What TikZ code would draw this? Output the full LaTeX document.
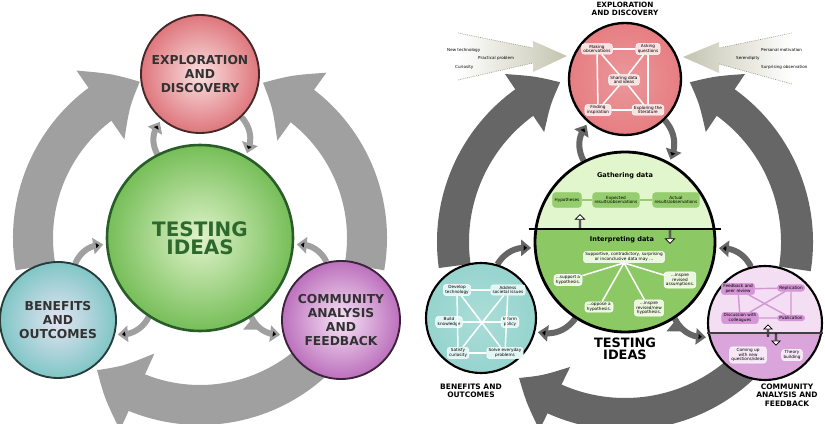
\documentclass[tikz,border=0pt]{standalone}
\usepackage{fontspec}
\setmainfont{DejaVu Sans}
\usetikzlibrary{arrows.meta,bending,shapes.arrows,backgrounds}

\definecolor{arcLt}{RGB}{160,160,160}
\definecolor{arcDk}{RGB}{102,102,102}
\definecolor{expOut}{RGB}{222,118,124}
\definecolor{expIn}{RGB}{250,224,224}
\definecolor{expLine}{RGB}{70,40,40}
\definecolor{tstOut}{RGB}{118,190,88}
\definecolor{tstIn}{RGB}{224,243,202}
\definecolor{tstLine}{RGB}{40,92,40}
\definecolor{tstText}{RGB}{45,105,45}
\definecolor{benOut}{RGB}{128,198,198}
\definecolor{benIn}{RGB}{228,228,242}
\definecolor{benLine}{RGB}{40,60,60}
\definecolor{comOut}{RGB}{188,112,188}
\definecolor{comIn}{RGB}{246,228,246}
\definecolor{comLine}{RGB}{60,35,60}
\definecolor{lblText}{RGB}{50,50,50}
\definecolor{expFill}{RGB}{230,126,130}
\definecolor{expBox}{RGB}{250,226,226}
\definecolor{gathFill}{RGB}{226,246,206}
\definecolor{gathBox}{RGB}{150,205,110}
\definecolor{intFill}{RGB}{140,200,100}
\definecolor{intBox}{RGB}{236,248,222}
\definecolor{benFill}{RGB}{150,212,206}
\definecolor{benBox}{RGB}{226,246,244}
\definecolor{comUp}{RGB}{243,222,243}
\definecolor{comLow}{RGB}{218,165,218}
\definecolor{comBox}{RGB}{212,150,212}
\definecolor{comBoxLt}{RGB}{247,232,247}
\definecolor{coneFill}{RGB}{196,196,176}
\definecolor{coneDot}{RGB}{150,150,130}

\tikzset{
  bubble/.style={circle, draw=#1, line width=1.6pt, inner sep=0pt, align=center},
  biglbl/.style={font=\bfseries\fontsize{10.5}{12.2}\selectfont, text=lblText},
  smlbl/.style={font=\bfseries\fontsize{6.4}{7.2}\selectfont, align=center, inner sep=0pt},
  bigarcL/.style={draw=arcLt, line width=12mm, -{Triangle[length=14mm,width=24mm,bend]}},
  bigarcR/.style={draw=arcDk, line width=9.6mm, -{Triangle[length=12.6mm,width=20mm,bend]}},
  minarcL/.style={draw=arcLt, line width=1.8mm, -{Triangle[length=3mm,width=4.8mm]}, shorten >=0.8mm},
  minarcR/.style={draw=arcDk, line width=1.8mm, -{Triangle[length=3mm,width=4.8mm]}, shorten >=0.8mm},
  tbox/.style={rounded corners=2.4pt, draw=white, line width=0.5pt, fill=#1,
    font=\fontsize{3.6}{4.1}\selectfont, align=center, inner xsep=1.6pt, inner ysep=1pt},
  wline/.style={draw=white, line width=1.3pt},
  hollowarr/.style={single arrow, draw=black, fill=white, line width=0.6pt, inner sep=0pt,
    minimum height=4.2mm, minimum width=2.8mm, single arrow head extend=0.5mm},
  conelbl/.style={font=\fontsize{3.5}{4}\selectfont, anchor=west, inner sep=0pt}
}

\begin{document}
\begin{tikzpicture}[x=0.3mm, y=-0.3mm]
\useasboundingbox (0,0) rectangle (825,424);

% ---------- simple cycle (left) ----------
\node[bubble=tstLine, line width=2.2pt, minimum size=55.8mm, inner color=tstIn, outer color=tstOut,
  font=\bfseries\fontsize{17}{15.5}\selectfont, text=tstText] (tst) at (200,238) {TESTING\\IDEAS};
\node[bubble=expLine, minimum size=35.4mm, inner color=expIn, outer color=expOut, biglbl] (exp) at (200,74) {EXPLORATION\\AND\\DISCOVERY};
\node[bubble=benLine, minimum size=34.8mm, inner color=benIn, outer color=benOut, biglbl] (ben) at (58,320) {BENEFITS\\AND\\OUTCOMES};
\node[bubble=comLine, minimum size=35.4mm, inner color=comIn, outer color=comOut, biglbl] (com) at (341,320) {COMMUNITY\\ANALYSIS\\AND\\FEEDBACK};

\begin{scope}[on background layer]
  \draw[bigarcL] ([shift={(-190:167)}]tst.center) arc[start angle=-190, end angle=-111, radius=167];
  \draw[bigarcL] ([shift={(10:167)}]tst.center) arc[start angle=10, end angle=-68, radius=167];
  \draw[bigarcL] ([shift={(48:167)}]tst.center) arc[start angle=48, end angle=128, radius=167];
  \path[minarcL]
    (tst.117) edge[bend left=35] (exp.230)
    (exp.-46) edge[bend left=35] (tst.61)
    (ben.73)  edge[bend left=35] (tst.184)
    (tst.237) edge[bend left=35] (ben.-14)
    (com.104) edge[bend right=35] (tst.-4)
    (tst.-57) edge[bend right=35] (com.194);
\end{scope}

% ---------- detailed cycle (right) ----------
% inflow cones
\shade[left color=white, right color=coneFill] (458,33) -- (533,48) -- (533,41) -- (567,56) -- (533,72) -- (533,63) -- (458,80) -- cycle;
\draw[coneDot, densely dotted, line width=0.6pt] (458,33) -- (533,48) (458,80) -- (533,63);
\shade[left color=coneFill, right color=white] (792,33) -- (719,48) -- (719,42) -- (683,57) -- (719,73) -- (719,64) -- (792,84) -- cycle;
\draw[coneDot, densely dotted, line width=0.6pt] (792,33) -- (719,48) (792,84) -- (719,64);
\node[conelbl] (newtech) at (447,50) {New technology};
\node[conelbl] (practp) at (478,58) {Practical problem};
\node[conelbl] (curios) at (455,67) {Curiosity};
\node[conelbl] (persmot) at (761,50) {Personal motivation};
\node[conelbl] (serend) at (736,58) {Serendipity};
\node[conelbl] (surpobs) at (761,67) {Surprising observation};

% circles
\node[bubble=black, line width=2.4pt, minimum size=54mm, fill=gathFill, path picture={
    \fill[intFill] ([yshift=3.9mm]path picture bounding box.center -| path picture bounding box.west)
      rectangle (path picture bounding box.south east);}] (tstB) at (625,242) {};
\node[bubble=black, line width=2pt, minimum size=33.6mm, inner color=expFill!80!white, outer color=expFill] (expB) at (625,79) {};
\node[bubble=black, line width=1.8pt, minimum size=33mm, inner color=benFill!80!white, outer color=benFill] (benB) at (481,318) {};
\node[bubble=black, line width=1.8pt, minimum size=34.2mm, fill=comUp, path picture={
    \fill[comLow] ([yshift=-3mm]path picture bounding box.center -| path picture bounding box.west)
      rectangle (path picture bounding box.south east);}] (comB) at (765,323) {};
\draw[line width=1.2pt] ([shift={(-5,-13)}]tstB.west) -- ([shift={(5,-13)}]tstB.east);
\draw[line width=1pt, black!75] ([shift={(0,10)}]comB.west) -- ([shift={(0,10)}]comB.east);

\begin{scope}[on background layer]
  \draw[bigarcR] ([shift={(-188:172)}]tstB.center) arc[start angle=-188, end angle=-112, radius=172];
  \draw[bigarcR] ([shift={(9:172)}]tstB.center) arc[start angle=9, end angle=-68, radius=172];
  \draw[bigarcR] ([shift={(46:172)}]tstB.center) arc[start angle=46, end angle=128, radius=172];
  \path[minarcR]
    (tstB.117) edge[bend left=35] (expB.230)
    (expB.-46) edge[bend left=35] (tstB.61)
    (benB.73)  edge[bend left=35] (tstB.184)
    (tstB.237) edge[bend left=35] (benB.-14)
    (comB.104) edge[bend right=35] (tstB.-4)
    (tstB.-57) edge[bend right=35] (comB.194);
\end{scope}

% exploration and discovery
\node[tbox=expBox] (mkob) at (597,49) {Making\\observations};
\node[tbox=expBox] (askq) at (648,49) {Asking\\questions};
\node[tbox=expBox] (shar) at (624,80) {Sharing data\\and ideas};
\node[tbox=expBox] (find) at (598,110) {Finding\\inspiration};
\node[tbox=expBox] (litr) at (648,110) {Exploring the\\literature};
\draw[wline] (mkob) -- (askq) (find) -- (litr) (mkob) -- (find) (askq) -- (litr)
  (mkob) -- (shar) (askq) -- (shar) (find) -- (shar) (litr) -- (shar);

% testing ideas
\node[font=\bfseries\fontsize{5.6}{6}\selectfont] (gath) at (625,176) {Gathering data};
\node[tbox=gathBox, draw=gathBox, minimum height=4.4mm] (hypo) at (567,200) {Hypotheses};
\node[tbox=gathBox, draw=gathBox, minimum height=4.4mm] (expr) at (616,200) {Expected\\results/observations};
\node[tbox=gathBox, draw=gathBox, minimum height=4.4mm] (actr) at (676,200) {Actual\\results/observations};
\draw[gathBox, line width=1pt] (hypo) -- (expr) -- (actr);
\node[hollowarr, rotate=90] (upA) at (580,222) {};
\node[hollowarr, rotate=-90] (dnA) at (670,236) {};
\node[font=\bfseries\fontsize{5.6}{6}\selectfont] (intp) at (622,240) {Interpreting data};
\node[tbox=intBox] (supp) at (624,257) {Supportive, contradictory, surprising\\or inconclusive data may ...};
\node[tbox=intBox] (spt) at (568,280) {...support a\\hypothesis.};
\node[tbox=intBox] (rvas) at (680,280) {...inspire\\revised\\assumptions.};
\node[tbox=intBox] (opp) at (599,307) {...oppose a\\hypothesis.};
\node[tbox=intBox] (rvhy) at (649,308) {...inspire\\revised/new\\hypothesis.};
\draw[wline] (supp.south) -- (spt) (supp.south) -- (opp) (supp.south) -- (rvhy) (supp.south) -- (rvas);

% benefits and outcomes
\node[tbox=benBox] (devt) at (457,290) {Develop\\technology};
\node[tbox=benBox] (addr) at (508,290) {Address\\societal issues};
\node[tbox=benBox] (bldk) at (449,322) {Build\\knowledge};
\node[tbox=benBox] (infp) at (510,322) {Inform\\policy};
\node[tbox=benBox] (satc) at (458,353) {Satisfy\\curiosity};
\node[tbox=benBox] (solv) at (505,353) {Solve everyday\\problems};
\draw[wline] (devt) -- (addr) (satc) -- (solv) (devt) -- (satc) (addr) -- (solv)
  (devt) -- (solv) (addr) -- (satc) (bldk) -- (infp);

% community analysis and feedback
\node[tbox=comBox, draw=comBox] (fdbk) at (738,289) {Feedback and\\peer review};
\node[tbox=comBox, draw=comBox] (repl) at (791,288) {Replication};
\node[tbox=comBox, draw=comBox] (disc) at (740,318) {Discussion with\\colleagues};
\node[tbox=comBox, draw=comBox] (publ) at (791,318) {Publication};
\draw[comBox, line width=1.2pt] (fdbk) -- (repl) (disc) -- (publ) (fdbk) -- (disc) (repl) -- (publ)
  (fdbk) -- (publ) (repl) -- (disc);
\node[hollowarr, rotate=90, minimum height=3.4mm, minimum width=2.4mm] (cupA) at (768,331) {};
\node[hollowarr, rotate=-90, minimum height=3.4mm, minimum width=2.4mm] (cdnA) at (776,339) {};
\node[tbox=comBoxLt] (cmup) at (748,355) {Coming up\\with new\\questions/ideas};
\node[tbox=comBoxLt] (thry) at (792,355) {Theory\\building};

% titles
\node[smlbl, font=\bfseries\fontsize{6.2}{6.8}\selectfont] (expBlbl) at (625,9) {EXPLORATION\\AND DISCOVERY};
\node[font=\bfseries\fontsize{11}{10.5}\selectfont, align=center] (tstBlbl) at (625,349) {TESTING\\IDEAS};
\node[smlbl] (benBlbl) at (471,391) {BENEFITS AND\\OUTCOMES};
\node[smlbl] (comBlbl) at (787,395) {COMMUNITY\\ANALYSIS AND\\FEEDBACK};
\end{tikzpicture}
\end{document}
